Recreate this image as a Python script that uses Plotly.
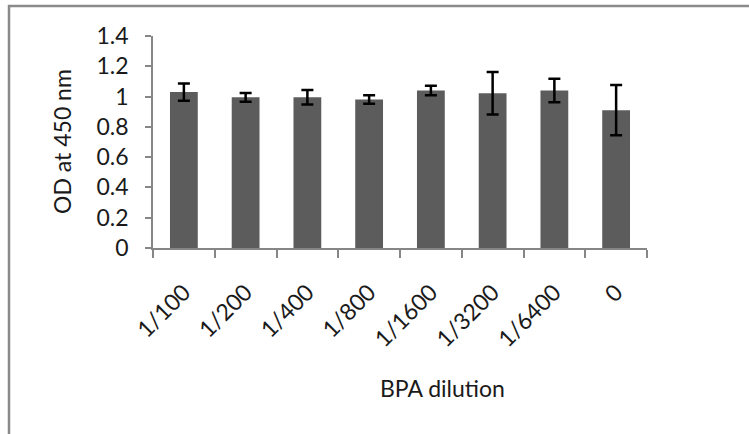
import plotly.graph_objects as go

categories = ["1/100", "1/200", "1/400", "1/800", "1/1600", "1/3200", "1/6400", "0"]
od_values = [1.03, 0.995, 0.995, 0.98, 1.04, 1.022, 1.04, 0.91]
od_errors = [0.057, 0.029, 0.048, 0.028, 0.032, 0.14, 0.077, 0.166]
y_ticks = [0, 0.2, 0.4, 0.6, 0.8, 1, 1.2, 1.4]
y_tick_labels = ["0", "0.2", "0.4", "0.6", "0.8", "1", "1.2", "1.4"]

FONT = "Lato"
FS = 23
AXIS_COLOR = "#868686"
TEXT_COLOR = "#1a1a1a"

fig = go.Figure()
fig.add_trace(go.Bar(
    x=categories,
    y=od_values,
    marker=dict(color="#5c5c5c", line=dict(width=0)),
    error_y=dict(type="data", array=od_errors, visible=True,
                 color="black", thickness=2.5, width=6),
    width=0.45,
))

L, R, T, B = 153, 102, 36, 186
W, H = 749, 434
pw, ph = W - L - R, H - T - B

def px(x):
    return (x - L) / pw

def py(y):
    return (H - B - y) / ph

fig.update_layout(
    width=W, height=H,
    margin=dict(l=L, r=R, t=T, b=B, pad=0),
    paper_bgcolor="white", plot_bgcolor="white",
    showlegend=False,
    font=dict(family=FONT, size=FS, color=TEXT_COLOR),
    xaxis=dict(
        type="category",
        showline=True, linecolor=AXIS_COLOR, linewidth=1.5,
        ticks="outside", tickson="boundaries", ticklen=8,
        tickcolor=AXIS_COLOR, tickwidth=1.5,
        tickangle=-45, ticklabelstandoff=20,
        tickfont=dict(family=FONT, size=FS, color=TEXT_COLOR),
        showgrid=False, zeroline=False,
        range=[-0.5, 7.5],
    ),
    yaxis=dict(
        range=[0, 1.4],
        tickvals=y_ticks, ticktext=y_tick_labels,
        showline=True, linecolor=AXIS_COLOR, linewidth=1.5,
        ticks="outside", ticklen=6, tickcolor=AXIS_COLOR, tickwidth=1.5,
        ticklabelstandoff=12,
        tickfont=dict(family=FONT, size=FS, color=TEXT_COLOR),
        showgrid=False, zeroline=False,
    ),
    shapes=[dict(
        type="rect", xref="paper", yref="paper",
        x0=px(9), x1=px(770), y0=py(460), y1=py(6),
        line=dict(color="#8a8a8a", width=2.5), fillcolor="rgba(0,0,0,0)",
        layer="below",
    )],
    annotations=[
        dict(text="BPA dilution", xref="paper", yref="paper",
             x=px(442), y=py(388), showarrow=False,
             xanchor="center", yanchor="middle",
             font=dict(family=FONT, size=FS, color=TEXT_COLOR)),
        dict(text="OD at 450 nm", xref="paper", yref="paper",
             x=px(62), y=py(142), showarrow=False, textangle=-90,
             xanchor="center", yanchor="middle",
             font=dict(family=FONT, size=FS, color=TEXT_COLOR)),
    ],
)

fig.write_html("out.html")
